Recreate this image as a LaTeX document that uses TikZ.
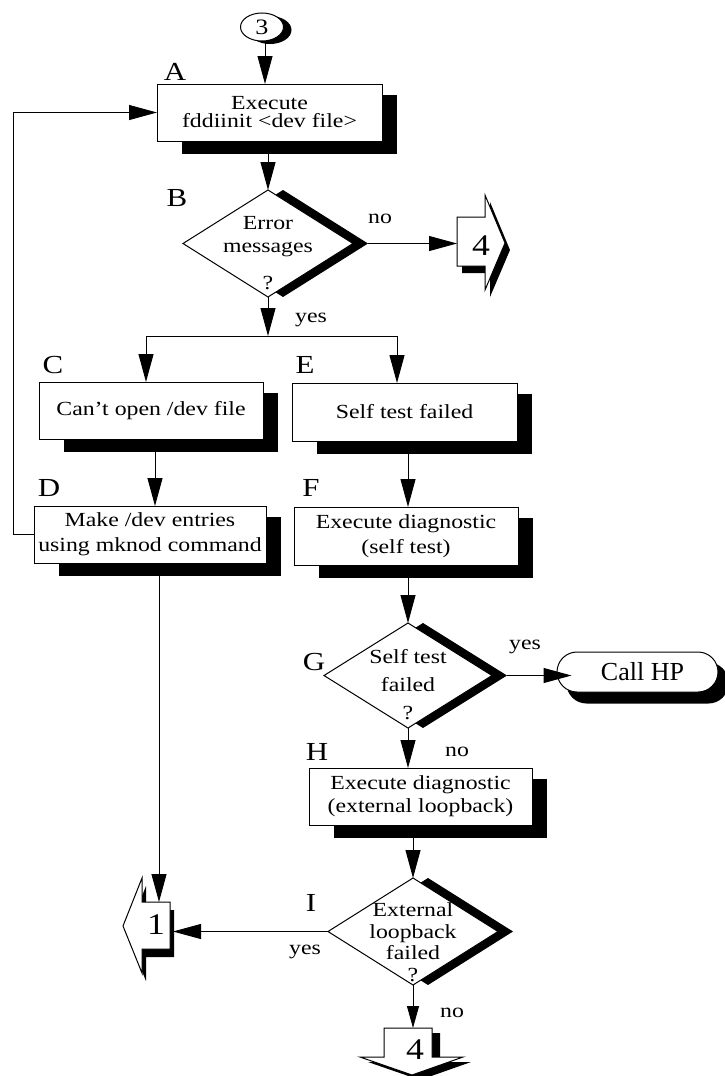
\documentclass[tikz,border=0pt]{standalone}
\usepackage{fontspec}
\setmainfont{Liberation Serif}[FakeStretch=1.19]
\newfontfamily\plainrm{Liberation Serif}
\usetikzlibrary{shapes.geometric,arrows.meta,backgrounds}
\begin{document}
\begin{tikzpicture}[x=1pt,y=-1pt, line width=1pt,
  proc/.style={draw, fill=white, inner sep=0pt, outer sep=0pt, align=center, font=\fontsize{20}{25}\selectfont},
  dec/.style={diamond, draw, fill=white, inner sep=0pt, outer sep=0pt, minimum width=170pt, minimum height=107pt},
  txt/.style={inner sep=0pt, align=center, font=\fontsize{20}{24}\selectfont},
  tag/.style={inner sep=0pt, font=\fontsize{26}{28}\selectfont},
  dig/.style={inner sep=0pt, font=\fontsize{30}{30}\selectfont},
  arr/.style={-{Triangle[length=28pt,width=15pt]}},
  arrsmall/.style={-{Triangle[length=22pt,width=12pt]}},
  conn/.style={draw, fill=white},
  shadowfill/.style={fill=black, draw=none},
]
\useasboundingbox (0,0) rectangle (725,1076);

% ---------- process boxes ----------
\node[ellipse, draw, fill=white, minimum width=43pt, minimum height=28pt, inner sep=0pt, font=\fontsize{22}{22}\selectfont] (three) at (262,27) {3};
\node[proc, minimum width=225pt, minimum height=57pt, font=\fontsize{20}{18}\selectfont] (A) at (269.5,112.5) {Execute\\fddiinit <dev file>};
\node[dec] (B) at (268,243.5) {};
\node[proc, minimum width=224pt, minimum height=57pt] (C) at (151,410.5) {Can't open /dev file};
\node[proc, minimum width=225pt, minimum height=58pt] (E) at (404.5,412) {Self test failed};
\node[proc, minimum width=232pt, minimum height=57pt] (D) at (150,534.5) {Make /dev entries\\using mknod command};
\node[proc, minimum width=224pt, minimum height=58pt] (F) at (406,536) {Execute diagnostic\\(self test)};
\node[dec, minimum width=168pt, minimum height=105pt] (G) at (408,675.5) {};
\node[draw, fill=white, rounded corners=20pt, minimum width=161pt, minimum height=40pt, inner sep=0pt, font=\plainrm\fontsize{26}{28}\selectfont] (HP) at (637.5,672) {\hspace*{10pt}Call HP};
\node[proc, minimum width=223pt, minimum height=57pt, font=\fontsize{20}{23}\selectfont] (H) at (420.5,796.5) {Execute diagnostic\\(external loopback)};
\node[dec] (I) at (413,931.5) {};

% ---------- shadows ----------
\begin{scope}[on background layer]
  \fill[white] (0,0) rectangle (725,1076);
  \fill[shadowfill] ([shift={(8,3)}]three.center) ellipse [x radius=21.5pt, y radius=14pt];
  \foreach \nm in {A,C,E,D,F,H}
    \fill[shadowfill] ([shift={(25,10.5)}]\nm.north west) rectangle ([shift={(14.5,13)}]\nm.south east);
  \foreach \nm in {B,G,I}
    \fill[shadowfill] ([xshift=15pt]\nm.north) -- ([xshift=15pt]\nm.east) -- ([xshift=15pt]\nm.south) -- ([xshift=15pt]\nm.west) -- cycle;
  \fill[shadowfill, rounded corners=20pt] ([shift={(10,11)}]HP.north west) rectangle ([shift={(10,11)}]HP.south east);
\end{scope}

% ---------- diamond texts ----------
\node[txt, font=\fontsize{20}{23}\selectfont] (Bt) at (268,236.5) {Error\\messages};
\node[txt] (Bq) at (268,283) {?};
\node[txt, font=\fontsize{20}{28}\selectfont] (Gt) at (408,671) {Self test\\failed};
\node[txt] (Gq) at (408,713) {?};
\node[txt, font=\fontsize{20}{21.5}\selectfont] (It) at (413,931.5) {External\\loopback\\failed};
\node[txt] (Iq) at (413,975) {?};

% ---------- off-page connectors ----------
\fill[shadowfill, shift={(5,7)}] (457,217) -- (485,217) -- (485,195) -- (505,243) -- (485,290) -- (485,266) -- (457,266) -- cycle;
\path[conn] (457,217) -- (485,217) -- (485,195) -- (505,243) -- (485,290) -- (485,266) -- (457,266) -- cycle;
\coordinate (fourRin) at (457,243.5);
\node[dig] (fourR) at (481,246) {4};

\fill[shadowfill, shift={(4,8)}] (123,926) -- (142,878) -- (142,902) -- (170,902) -- (170,949) -- (142,949) -- (142,973) -- cycle;
\path[conn] (123,926) -- (142,878) -- (142,902) -- (170,902) -- (170,949) -- (142,949) -- (142,973) -- cycle;
\coordinate (oneTop) at (159,902);
\coordinate (oneIn) at (173,931.5);
\node[dig] (one) at (156,925) {1};

\fill[shadowfill, shift={(8,5)}] (384,1028) -- (432,1028) -- (432,1057) -- (463,1057) -- (412,1075) -- (360,1057) -- (384,1057) -- cycle;
\path[conn] (384,1028) -- (432,1028) -- (432,1057) -- (463,1057) -- (412,1075) -- (360,1057) -- (384,1057) -- cycle;
\coordinate (fourBin) at (412,1028);
\node[dig] (fourB) at (415,1050) {4};

% ---------- connectors ----------
\coordinate (split) at (268,336);
\draw[arr] ([xshift=3pt]three.south) -- ([xshift=3pt]three.south |- A.north);
\draw[arr] (B.north |- A.south) -- (B.north);
\draw[arr] ([xshift=15pt]B.east) -- (fourRin);
\draw[arr] (B.south) -- (split);
\draw[arr] (split) -| ([xshift=-5pt]C.north);
\draw[arr] (split) -| ([xshift=-7.5pt]E.north);
\draw[arr] ([xshift=4pt]C.south) -- ([xshift=4pt]C.south |- D.north);
\draw[arr] (D.west) -- ++(-21,0) |- (A.west);
\draw[arr] ([xshift=9pt]D.south) -- (oneTop);
\draw[arr] ([xshift=3.5pt]E.south) -- ([xshift=3.5pt]E.south |- F.north);
\draw[arr] (G.north |- F.south) -- (G.north);
\draw[arr] ([xshift=15pt]G.east) -- ([xshift=15pt]G.east -| HP.west);
\draw[arr] (G.south) -- (G.south |- H.north);
\draw[arr] (I.north |- H.south) -- (I.north);
\draw[arr] (I.west) -- (oneIn);
\draw[arrsmall] (I.south) -- (I.south |- fourBin);

% ---------- step letters and branch labels ----------
\node[tag] (lA) at (175,72) {A};
\node[tag] (lB) at (177,198) {B};
\node[tag] (lC) at (53,365) {C};
\node[tag] (lD) at (49,488) {D};
\node[tag] (lE) at (305,365) {E};
\node[tag] (lF) at (311,488) {F};
\node[tag] (lG) at (314,662) {G};
\node[tag] (lH) at (317,752) {H};
\node[tag] (lI) at (311,903) {I};

\node[txt] (yB) at (311,320) {yes};
\node[txt] (nB) at (380,219) {no};
\node[txt] (yG) at (525,647) {yes};
\node[txt] (nG) at (457,752) {no};
\node[txt] (yI) at (305,952) {yes};
\node[txt] (nI) at (452,1013) {no};
\end{tikzpicture}
\end{document}
